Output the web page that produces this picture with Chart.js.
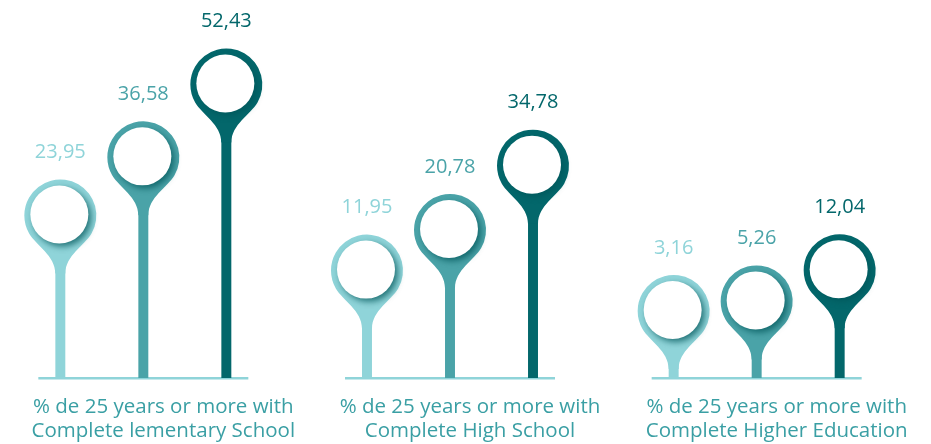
<!DOCTYPE html>
<html>
<head>
<meta charset="utf-8">
<script src="https://cdn.jsdelivr.net/npm/chart.js@4.4.1/dist/chart.umd.min.js"></script>
<style>
  html, body { margin: 0; padding: 0; background: #fff; overflow: hidden; }
  #wrap { position: absolute; left: -10px; top: 0; width: 920px; height: 444px; }
</style>
</head>
<body>
<div id="wrap"><canvas id="pins"></canvas></div>
<script>
// categories (x axis labels, two lines each)
const categories = [
    ["% de 25 years or more with", "Complete lementary School"],
    ["% de 25 years or more with", "Complete High School"],
    ["% de 25 years or more with", "Complete Higher Education"]
];
// three series per group
const seriesLight = [23.95, 11.95, 3.16];
const seriesMid = [36.58, 20.78, 5.26];
const seriesDark = [52.43, 34.78, 12.04];

const colors = ["#8fd4d9", "#4aa3a8", "#03676b"];
const yMin = -11.4;
const yMax = 70.8;

function fmt(v) {
    return v.toFixed(2).replace(".", ",");
}

// draws the baseline, the pin heads, value labels and category labels
const pinPlugin = {
    id: "pins",
    beforeDatasetsDraw(chart) {
        const ctx = chart.ctx;
        const x = chart.scales.x;
        const bottom = chart.chartArea.bottom;
        ctx.save();
        ctx.fillStyle = "#8fd4d9";
        for (var i = 0; i < categories.length; i++) {
            const cx = x.getPixelForValue(i);
            ctx.fillRect(cx - 105, bottom - 1, 210, 2.5);
        }
        ctx.restore();
    },
    afterDatasetsDraw(chart) {
        const ctx = chart.ctx;
        const x = chart.scales.x;
        const bottom = chart.chartArea.bottom;
        const R = 36, r = 29, w = 5;
        chart.data.datasets.forEach(function(ds, di) {
            const meta = chart.getDatasetMeta(di);
            meta.data.forEach(function(el, i) {
                const cx = el.x, cy = el.y;
                const px = R * Math.cos(Math.PI / 6), py = R * Math.sin(Math.PI / 6);
                ctx.save();
                ctx.fillStyle = ds.backgroundColor;
                ctx.beginPath();
                ctx.moveTo(cx - px, cy + py);
                ctx.bezierCurveTo(cx - px + 7, cy + py + 12, cx - w, cy + 40, cx - w, cy + 58);
                ctx.lineTo(cx + w, cy + 58);
                ctx.bezierCurveTo(cx + w, cy + 40, cx + px - 7, cy + py + 12, cx + px, cy + py);
                ctx.arc(cx, cy, R, Math.PI / 6, 5 * Math.PI / 6, true);
                ctx.closePath();
                ctx.fill();

                ctx.shadowColor = "rgba(0, 85, 90, 0.75)";
                ctx.shadowBlur = 6;
                ctx.shadowOffsetX = 3;
                ctx.shadowOffsetY = 3;
                ctx.fillStyle = "#ffffff";
                ctx.beginPath();
                ctx.arc(cx - 1, cy - 1, r, 0, Math.PI * 2);
                ctx.fill();
                ctx.restore();

                ctx.save();
                ctx.fillStyle = ds.backgroundColor;
                ctx.font = "20px 'Open Sans', sans-serif";
                ctx.textAlign = "center";
                ctx.textBaseline = "middle";
                ctx.fillText(fmt(ds.data[i]), cx, cy - 63);
                ctx.restore();
            });
        });

        ctx.save();
        ctx.fillStyle = "#3a9fa4";
        ctx.font = "20.5px 'Open Sans', sans-serif";
        ctx.textAlign = "center";
        ctx.textBaseline = "middle";
        categories.forEach(function(lines, i) {
            const cx = x.getPixelForValue(i) + 20;
            lines.forEach(function(t, j) {
                ctx.fillText(t, cx, bottom + 29 + j * 24);
            });
        });
        ctx.restore();
    }
};

new Chart("pins", {
    type: "bar",
    data: {
        labels: categories,
        datasets: [
            { label: "A", data: seriesLight, backgroundColor: colors[0], base: yMin },
            { label: "B", data: seriesMid, backgroundColor: colors[1], base: yMin },
            { label: "C", data: seriesDark, backgroundColor: colors[2], base: yMin }
        ]
    },
    options: {
        responsive: true,
        maintainAspectRatio: false,
        animation: false,
        layout: { padding: { top: 0, left: 0, right: 0, bottom: 66 } },
        datasets: { bar: { barPercentage: 0.12, categoryPercentage: 0.812 } },
        plugins: { legend: { display: false }, tooltip: { enabled: false } },
        scales: {
            x: { display: false },
            y: { display: false, min: yMin, max: yMax }
        }
    },
    plugins: [pinPlugin]
});
</script>
</body>
</html>
